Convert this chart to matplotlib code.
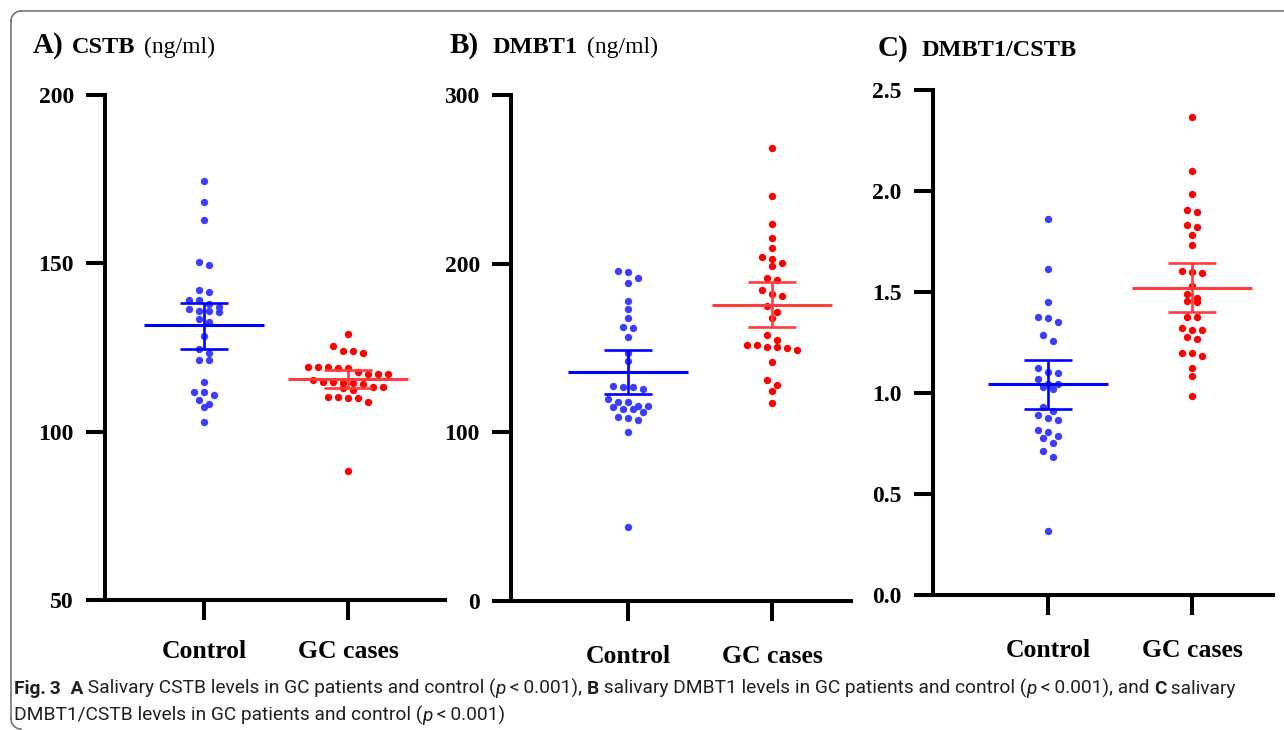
import numpy as np
import matplotlib
matplotlib.use('Agg')
import matplotlib.pyplot as plt
from matplotlib import font_manager

# ---------------- data ----------------
groups = ['Control', 'GC cases']

cstb_control = [174.5, 168.2, 162.9, 150.4, 149.4, 142.1, 141.4, 139.1, 139.1, 137.8,
                136.4, 135.7, 137.1, 135.4, 135.9, 133.5, 132.6, 128.5, 124.5, 123.3,
                121.3, 121.3, 114.8, 111.7, 111.0, 111.7, 109.5, 108.3, 107.2, 102.8]
cstb_gc = [129.1, 125.5, 124.1, 123.5, 123.9, 119.1, 118.9, 118.9, 119.1, 119.1,
           117.1, 117.1, 117.7, 117.1, 114.6, 114.9, 115.4, 114.2, 114.6, 114.9,
           113.4, 112.4, 113.4, 112.9, 110.1, 110.4, 110.4, 110.1, 108.8, 88.2]
cstb_mean = [131.6, 115.7]
cstb_lo = [124.7, 112.9]
cstb_hi = [138.3, 118.3]

dmbt1_control = [194.8, 195.4, 191.6, 188.3, 177.8, 173.3, 167.8, 161.8, 162.4, 156.5,
                 146.8, 142.4, 127.0, 125.7, 127.0, 127.6, 119.7, 118.0, 118.0, 115.8,
                 114.0, 112.0, 113.6, 115.0, 115.8, 108.9, 107.5, 108.7, 100.0, 43.7]
dmbt1_gc = [268.7, 240.3, 223.3, 215.4, 209.4, 202.5, 203.7, 200.5, 198.8, 190.5,
            191.6, 184.5, 181.8, 180.6, 175.0, 171.5, 167.6, 157.7, 154.9, 151.9,
            150.6, 149.0, 150.0, 150.6, 151.9, 141.7, 131.2, 127.9, 124.5, 117.5]
dmbt1_mean = [135.7, 175.5]
dmbt1_lo = [122.7, 162.2]
dmbt1_hi = [149.0, 188.9]

ratio_control = [1.860, 1.612, 1.452, 1.376, 1.371, 1.350, 1.286, 1.259, 1.125, 1.106,
                 1.101, 1.069, 1.045, 1.046, 1.020, 1.031, 0.932, 0.909, 0.890, 0.868,
                 0.878, 0.809, 0.817, 0.786, 0.777, 0.752, 0.713, 0.685, 0.315]
ratio_gc = [2.366, 2.097, 1.987, 1.894, 1.904, 1.822, 1.833, 1.782, 1.733, 1.606,
            1.594, 1.599, 1.528, 1.492, 1.470, 1.449, 1.454, 1.375, 1.376, 1.320,
            1.310, 1.310, 1.266, 1.277, 1.200, 1.183, 1.198, 1.124, 1.083, 0.984]
ratio_mean = [1.045, 1.520]
ratio_lo = [0.922, 1.399]
ratio_hi = [1.163, 1.644]

cstb_ticks = [50, 100, 150, 200]
dmbt1_ticks = [0, 100, 200, 300]
ratio_ticks = [0.0, 0.5, 1.0, 1.5, 2.0, 2.5]
ratio_ticklabels = ['0.0', '0.5', '1.0', '1.5', '2.0', '2.5']

# ---------------- figure ----------------
W, H = 1284, 730
DPI = 100
fig = plt.figure(figsize=(W / DPI, H / DPI), dpi=DPI)
fig.patch.set_facecolor('white')

SERIF = ['Liberation Serif', 'DejaVu Serif']
_installed = {f.name for f in font_manager.fontManager.ttflist}
if 'Liberation Sans Narrow' in _installed:
    SANS = ['Liberation Sans Narrow', 'DejaVu Sans']
else:
    SANS = ['Roboto', 'DejaVu Sans']

DOT_BLUE = '#3d3dff'
LINE_BLUE = '#0000ff'
DOT_RED = '#ff0000'
LINE_RED = '#ff3c3c'


def fx(x):
    return x / W


def fy(y):
    return 1 - y / H


def axes_px(left, right, top, bottom):
    return [left / W, 1 - bottom / H, (right - left) / W, (bottom - top) / H]


def swarm_offsets(ax, center, vals, step_px=10.0, row_px=7.0):
    vals = np.asarray(vals, float)
    pts = ax.transData.transform(np.column_stack([np.full(len(vals), center), vals]))
    ys = pts[:, 1]
    x0 = ax.transData.transform((center, 0))[0]
    x1 = ax.transData.transform((center + 1, 0))[0]
    px_per_unit = x1 - x0
    order = np.argsort(-ys)
    offsets = np.zeros(len(vals))
    rows = []
    cur = []
    start = None
    for i in order:
        if start is None or start - ys[i] > row_px:
            if cur:
                rows.append(cur)
            cur = [i]
            start = ys[i]
        else:
            cur.append(i)
    if cur:
        rows.append(cur)
    for r in rows:
        n = len(r)
        for k, i in enumerate(r):
            offsets[i] = (k - (n - 1) / 2) * step_px / px_per_unit
    return center + offsets


def panel(rect, ylim, ticks, ticklabels, series, means, los, his, xlim, xpad):
    ax = fig.add_axes(rect)
    ax.set_xlim(*xlim)
    ax.set_ylim(*ylim)
    for s in ['top', 'right']:
        ax.spines[s].set_visible(False)
    for s in ['left', 'bottom']:
        ax.spines[s].set_linewidth(2.9)
        ax.spines[s].set_capstyle('projecting')
    ax.set_yticks(ticks)
    ax.set_yticklabels(ticklabels if ticklabels else [str(t) for t in ticks])
    ax.set_xticks(range(len(groups)))
    ax.set_xticklabels(groups)
    ax.tick_params(axis='y', direction='out', length=13.5, width=2.9, pad=9)
    ax.tick_params(axis='x', direction='out', length=14.5, width=2.9, pad=xpad)
    for lab in ax.get_yticklabels():
        lab.set_fontfamily(SERIF)
        lab.set_fontweight('bold')
        lab.set_fontsize(17)
    for lab in ax.get_xticklabels():
        lab.set_fontfamily(SERIF)
        lab.set_fontweight('bold')
        lab.set_fontsize(18.5)
    dot_cols = [DOT_BLUE, DOT_RED]
    line_cols = [LINE_BLUE, LINE_RED]
    for i, vals in enumerate(series):
        xs = swarm_offsets(ax, i, vals)
        ax.plot(xs, vals, 'o', ms=5.3, color=dot_cols[i], mec='none',
                zorder=3, clip_on=False)
    for i in range(len(series)):
        c = line_cols[i]
        ax.hlines(means[i], i - 0.415, i + 0.415, color=c, lw=2.2, zorder=4)
        ax.vlines(i, los[i], his[i], color=c, lw=1.9, zorder=4)
        ax.hlines([los[i], his[i]], i - 0.167, i + 0.167, color=c, lw=1.9, zorder=4)
    return ax


axA = panel(axes_px(105, 445, 95, 600), (50, 200), cstb_ticks, None,
            [cstb_control, cstb_gc], cstb_mean, cstb_lo, cstb_hi,
            (-(204 - 105) / 144, (445 - 204) / 144), 14)
axB = panel(axes_px(511, 851, 95, 601), (0, 300), dmbt1_ticks, None,
            [dmbt1_control, dmbt1_gc], dmbt1_mean, dmbt1_lo, dmbt1_hi,
            (-(628 - 511) / 144, (851 - 628) / 144), 17)
axC = panel(axes_px(933, 1273, 90, 595), (0, 2.5), ratio_ticks, ratio_ticklabels,
            [ratio_control, ratio_gc], ratio_mean, ratio_lo, ratio_hi,
            (-(1048 - 933) / 144, (1273 - 1048) / 144), 17)

# ---------------- panel titles ----------------
def title_text(x, y, s, size, weight):
    fig.text(fx(x), fy(y), s, ha='left', va='baseline', fontsize=size,
             fontweight=weight, family=SERIF, color='black')

title_text(33, 53, 'A)', 21, 'bold')
title_text(72, 53, 'CSTB', 17.5, 'bold')
title_text(144, 53, '(ng/ml)', 17, 'normal')
title_text(450, 53, 'B)', 21, 'bold')
title_text(493, 53, 'DMBT1', 17.5, 'bold')
title_text(587, 53, '(ng/ml)', 17, 'normal')
title_text(878, 56, 'C)', 21, 'bold')
title_text(922, 56, 'DMBT1/CSTB', 17.5, 'bold')

# ---------------- caption ----------------
renderer = fig.canvas.get_renderer()
TS = '\u2009'
line1 = [('Fig.\u20093', 'bold', 'normal'), ('  A', 'bold', 'normal'),
         (' Salivary CSTB levels in GC patients and control (', 'normal', 'normal'),
         ('p', 'normal', 'italic'), (TS + '<' + TS + '0.001), ', 'normal', 'normal'),
         ('B', 'bold', 'normal'),
         (' salivary DMBT1 levels in GC patients and control (', 'normal', 'normal'),
         ('p', 'normal', 'italic'), (TS + '<' + TS + '0.001), and ', 'normal', 'normal'),
         ('C', 'bold', 'normal'), (' salivary', 'normal', 'normal')]
line2 = [('DMBT1/CSTB levels in GC patients and control (', 'normal', 'normal'),
         ('p', 'normal', 'italic'), (TS + '<' + TS + '0.001)', 'normal', 'normal')]


def draw_runs(x0, y0, runs, size, keep=True):
    x = x0
    made = []
    for s, w, st in runs:
        t = fig.text(fx(x), fy(y0), s, ha='left', va='baseline', fontsize=size,
                     fontweight=w, fontstyle=st, family=SANS, color='#231f20')
        bb = t.get_window_extent(renderer)
        x += bb.width
        made.append(t)
    if not keep:
        for t in made:
            t.remove()
    return x - x0


base = 13.0
wid = draw_runs(14, 694, line1, base, keep=False)
size = base * (1222.0 / wid)
draw_runs(14, 694, line1, size)
draw_runs(14, 721, line2, size)

# ---------------- outer frame (rounded, open to the right) ----------------
r = 10.0
fc = '#6a6a6a'
lw = 1.1
th = np.linspace(0, np.pi / 2, 20)
cx, cy = 11 + r, 11 + r
xs = cx - r * np.cos(th)
ys = cy - r * np.sin(th)
fig.add_artist(plt.Line2D([fx(v) for v in xs], [fy(v) for v in ys], color=fc, lw=lw))
fig.add_artist(plt.Line2D([fx(11 + r), fx(W + 5)], [fy(11), fy(11)], color=fc, lw=lw))
fig.add_artist(plt.Line2D([fx(11), fx(11)], [fy(11 + r), fy(729 - r)], color=fc, lw=lw))
cx, cy = 11 + r, 729 - r
xs = cx - r * np.cos(th)
ys = cy + r * np.sin(th)
fig.add_artist(plt.Line2D([fx(v) for v in xs], [fy(v) for v in ys], color=fc, lw=lw))

fig.savefig('out.png', dpi=DPI, facecolor='white')
